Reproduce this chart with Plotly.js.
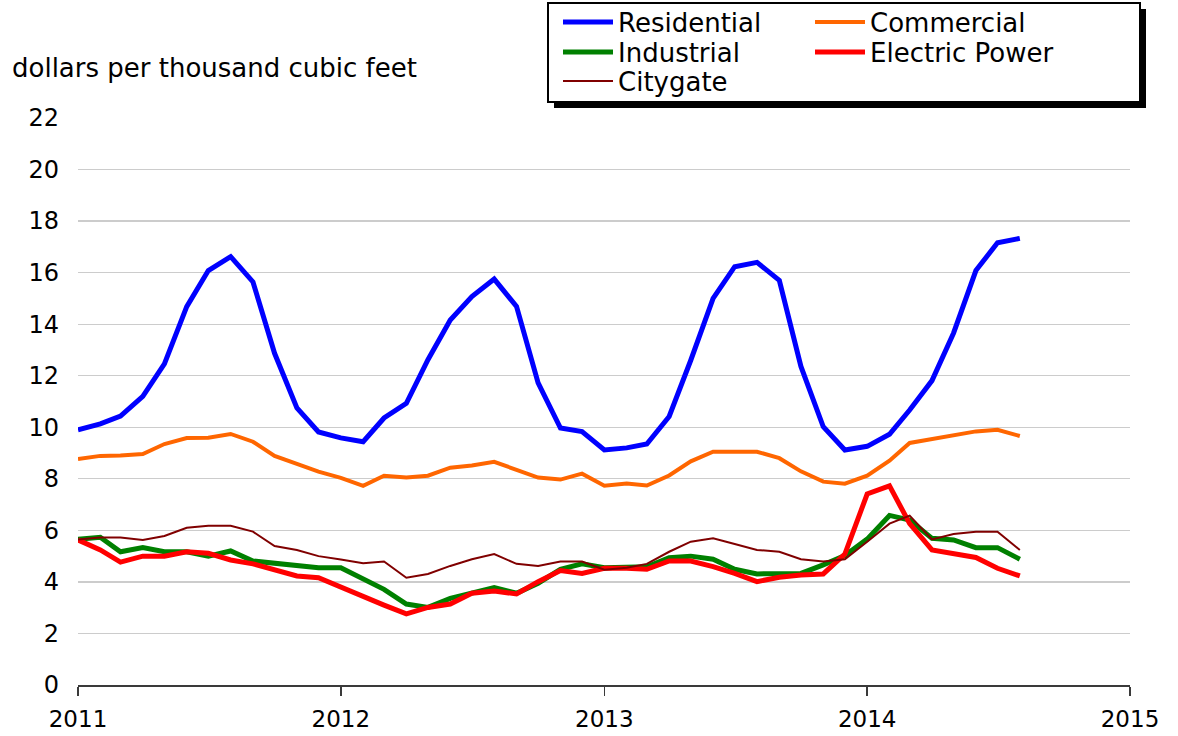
<!DOCTYPE html>
<html>
<head>
<meta charset="utf-8">
<script src="https://cdn.plot.ly/plotly-3.0.1.min.js"></script>
<style>
  html, body { margin: 0; padding: 0; background: #ffffff; }
  #chart { width: 1178px; height: 736px; }
</style>
</head>
<body>
<div id="chart"></div>
<script>
// Months: Jan 2011 .. Aug 2014
var months = [];
for (var yr = 2011; yr <= 2014; yr++) {
  for (var m = 1; m <= 12; m++) {
    if (yr === 2014 && m > 8) break;
    months.push(yr + '-' + (m < 10 ? '0' + m : m) + '-01');
  }
}

var residential = [9.90, 10.13, 10.43, 11.20, 12.46, 14.68, 16.08, 16.62, 15.64, 12.87, 10.75, 9.82,
                   9.59, 9.44, 10.36, 10.93, 12.62, 14.16, 15.07, 15.75, 14.69, 11.72, 9.97, 9.83,
                   9.12, 9.20, 9.35, 10.42, 12.60, 15.00, 16.23, 16.40, 15.70, 12.36, 10.02, 9.12,
                   9.26, 9.73, 10.67, 11.81, 13.66, 16.08, 17.16, 17.33];
var commercial = [8.77, 8.89, 8.90, 8.96, 9.35, 9.58, 9.59, 9.74, 9.44, 8.89, 8.58, 8.28,
                  8.04, 7.73, 8.12, 8.05, 8.12, 8.43, 8.52, 8.66, 8.35, 8.05, 7.97, 8.20,
                  7.73, 7.82, 7.74, 8.13, 8.68, 9.05, 9.05, 9.05, 8.80, 8.29, 7.89, 7.81,
                  8.12, 8.70, 9.39, 9.55, 9.69, 9.84, 9.90, 9.66];
var industrial = [5.65, 5.73, 5.17, 5.33, 5.17, 5.17, 5.00, 5.20, 4.81, 4.72, 4.62, 4.55,
                  4.55, 4.14, 3.71, 3.14, 3.01, 3.36, 3.58, 3.78, 3.56, 3.95, 4.49, 4.70,
                  4.55, 4.55, 4.59, 4.94, 5.00, 4.88, 4.49, 4.31, 4.31, 4.33, 4.66, 5.02,
                  5.66, 6.58, 6.40, 5.69, 5.63, 5.33, 5.33, 4.88];
var electricPower = [5.63, 5.24, 4.77, 5.00, 5.00, 5.17, 5.11, 4.85, 4.70, 4.46, 4.23, 4.16,
                     3.79, 3.47, 3.10, 2.76, 3.01, 3.14, 3.56, 3.65, 3.53, 4.01, 4.44, 4.33,
                     4.53, 4.53, 4.49, 4.81, 4.81, 4.59, 4.33, 4.01, 4.18, 4.27, 4.31, 5.08,
                     7.41, 7.73, 6.26, 5.24, 5.11, 4.95, 4.53, 4.23];
var citygate = [5.65, 5.72, 5.72, 5.63, 5.78, 6.10, 6.18, 6.18, 5.95, 5.39, 5.24, 5.00,
                4.87, 4.72, 4.79, 4.16, 4.31, 4.62, 4.88, 5.08, 4.70, 4.62, 4.79, 4.79,
                4.47, 4.55, 4.70, 5.17, 5.56, 5.69, 5.47, 5.24, 5.17, 4.88, 4.79, 4.88,
                5.56, 6.26, 6.57, 5.65, 5.86, 5.95, 5.95, 5.24];

var seriesNames = ['Residential', 'Commercial', 'Industrial', 'Electric Power', 'Citygate'];
var yearTicks = ['2011-01-01', '2012-01-01', '2013-01-01', '2014-01-01', '2015-01-01'];
var yearLabels = ['2011', '2012', '2013', '2014', '2015'];
var yAxisLabel = 'dollars per thousand cubic feet';

var FONT = 'DejaVu Sans, Liberation Sans, Arial, sans-serif';

function mk(y, name, color, width, legendId) {
  return {
    type: 'scatter', mode: 'lines', x: months, y: y, name: name,
    line: {color: color, width: width},
    legend: legendId, hoverinfo: 'skip'
  };
}

var data = [
  mk(residential, seriesNames[0], '#0000ff', 5, 'legend'),
  mk(commercial, seriesNames[1], '#ff6600', 4, 'legend2'),
  mk(industrial, seriesNames[2], '#008000', 5, 'legend3'),
  mk(electricPower, seriesNames[3], '#ff0000', 5, 'legend4'),
  mk(citygate, seriesNames[4], '#800000', 2, 'legend5')
];

// pixel helpers for paper placement (plot area: x 78..1130, y 118..685)
function px(v) { return (v - 78) / 1052; }
function py(v) { return (685 - v) / 567; }

function leg(xp, yp) {
  return {
    x: px(xp), y: py(yp), xref: 'paper', yref: 'paper',
    xanchor: 'left', yanchor: 'middle', orientation: 'v',
    bgcolor: 'rgba(0,0,0,0)', borderwidth: 0, itemwidth: 50,
    font: {family: FONT, size: 26, color: '#000000'}
  };
}

var layout = {
  width: 1178, height: 736,
  margin: {l: 78, r: 48, t: 118, b: 51, autoexpand: false},
  paper_bgcolor: '#ffffff', plot_bgcolor: '#ffffff',
  showlegend: true,
  font: {family: FONT, size: 24, color: '#000000'},
  xaxis: {
    type: 'date',
    range: ['2011-01-01', '2015-01-01'],
    tickmode: 'array', tickvals: yearTicks, ticktext: yearLabels,
    showgrid: false, zeroline: false,
    showline: true, linecolor: '#3a3a3a', linewidth: 2,
    ticks: 'outside', ticklen: 9, tickwidth: 1.5, tickcolor: '#3a3a3a',
    ticklabelstandoff: 3,
    tickfont: {family: FONT, size: 23, color: '#000000'},
    fixedrange: true
  },
  yaxis: {
    range: [0, 22], dtick: 2, tick0: 0,
    showgrid: true, gridcolor: '#cccccc', gridwidth: 1.3,
    zeroline: false, showline: false, ticks: '',
    ticklabelstandoff: 18,
    tickfont: {family: FONT, size: 24, color: '#000000'},
    fixedrange: true
  },
  annotations: [{
    text: yAxisLabel, xref: 'paper', yref: 'paper',
    x: px(10), y: py(68), xanchor: 'left', yanchor: 'middle',
    showarrow: false, font: {family: FONT, size: 26, color: '#000000'}
  }],
  shapes: [
    {type: 'rect', xref: 'paper', yref: 'paper', x0: px(554), x1: px(1146), y0: py(108), y1: py(9),
     fillcolor: '#000000', line: {width: 0}},
    {type: 'rect', xref: 'paper', yref: 'paper', x0: px(548), x1: px(1140), y0: py(102), y1: py(3),
     fillcolor: '#ffffff', line: {color: '#000000', width: 2}}
  ],
  legend: leg(558, 22),
  legend2: leg(810, 22),
  legend3: leg(558, 52),
  legend4: leg(810, 52),
  legend5: leg(558, 81)
};

Plotly.newPlot('chart', data, layout, {staticPlot: true, displayModeBar: false});
</script>
</body>
</html>
